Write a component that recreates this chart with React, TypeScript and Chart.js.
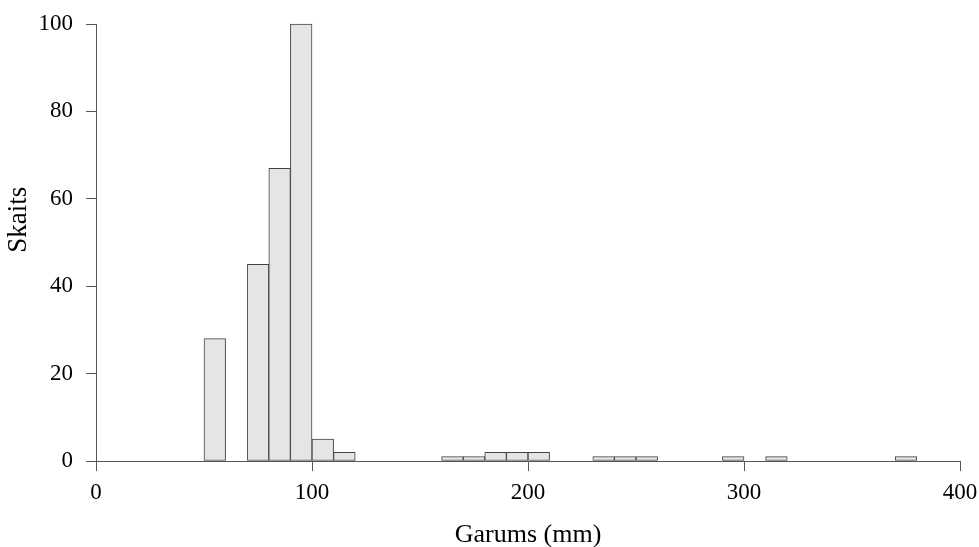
import React, { useEffect, useRef } from "react";
import { Chart, registerables } from "chart.js";

Chart.register(...registerables);

const binStarts = [50, 70, 80, 90, 100, 110, 160, 170, 180, 190, 200, 230, 240, 250, 290, 310, 370];
const counts = [28, 45, 67, 100, 5, 2, 1, 1, 2, 2, 2, 1, 1, 1, 1, 1, 1];
const binWidth = 10;
const xTickValues = [0, 100, 200, 300, 400];
const yTickValues = [0, 20, 40, 60, 80, 100];
const xTitle = "Garums (mm)";
const yTitle = "Skaits";

const FONT = "'Liberation Serif', 'Times New Roman', serif";
const AXIS = "#555555";

const titlePlugin = {
  id: "axisTitles",
  afterDraw(chart: any) {
    const { ctx, chartArea } = chart;
    ctx.save();
    ctx.fillStyle = "#000";
    ctx.textAlign = "center";
    ctx.textBaseline = "alphabetic";
    ctx.font = `26px ${FONT}`;
    ctx.fillText(xTitle, (chartArea.left + chartArea.right) / 2, chartArea.bottom + 81);
    ctx.font = `27px ${FONT}`;
    ctx.translate(chartArea.left - 70, chartArea.top + (chartArea.bottom - chartArea.top) * 0.448);
    ctx.rotate(-Math.PI / 2);
    ctx.fillText(yTitle, 0, 0);
    ctx.restore();
  },
};

export default function App() {
  const ref = useRef<HTMLCanvasElement | null>(null);
  useEffect(() => {
    document.body.style.margin = "0";
    if (!ref.current) return;
    const chart = new Chart(ref.current, {
      type: "bar",
      data: {
        datasets: [
          {
            data: binStarts.map((s, i) => ({ x: s + binWidth / 2, y: counts[i] })),
            backgroundColor: "#e5e5e5",
            borderColor: "#444444",
            borderWidth: 1,
            borderSkipped: false,
            barPercentage: 1,
            categoryPercentage: 1,
            clip: false,
          } as any,
        ],
      },
      options: {
        responsive: false,
        animation: false,
        devicePixelRatio: 1,
        layout: { padding: { top: 24, right: 19, bottom: 0, left: 0 } },
        plugins: { legend: { display: false }, tooltip: { enabled: false } },
        scales: {
          x: {
            type: "linear",
            min: 0,
            max: 400,
            offset: false,
            afterBuildTicks: (s: any) => {
              s.ticks = xTickValues.map((v) => ({ value: v }));
            },
            afterFit: (s: any) => {
              s.height = 86;
              s.paddingLeft = 0;
              s.paddingRight = 0;
            },
            grid: { offset: false, drawOnChartArea: false, drawTicks: true, tickLength: 10, color: AXIS, lineWidth: 1 },
            border: { display: true, color: AXIS, width: 1 },
            ticks: { color: "#000", font: { family: FONT, size: 23 }, padding: 8, maxRotation: 0, autoSkip: false },
          },
          y: {
            type: "linear",
            min: 0,
            max: 100,
            afterBuildTicks: (s: any) => {
              s.ticks = yTickValues.map((v) => ({ value: v }));
            },
            afterFit: (s: any) => {
              s.width = 96;
              s.paddingTop = 0;
              s.paddingBottom = 0;
            },
            grid: { drawOnChartArea: false, drawTicks: true, tickLength: 10, color: AXIS, lineWidth: 1 },
            border: { display: true, color: AXIS, width: 1 },
            ticks: { color: "#000", font: { family: FONT, size: 23 }, padding: 13, autoSkip: false },
          },
        },
      } as any,
      plugins: [titlePlugin],
    });
    return () => chart.destroy();
  }, []);
  return (
    <div style={{ width: 979, height: 547 }}>
      <canvas ref={ref} width={979} height={547} style={{ display: "block" }} />
    </div>
  );
}
